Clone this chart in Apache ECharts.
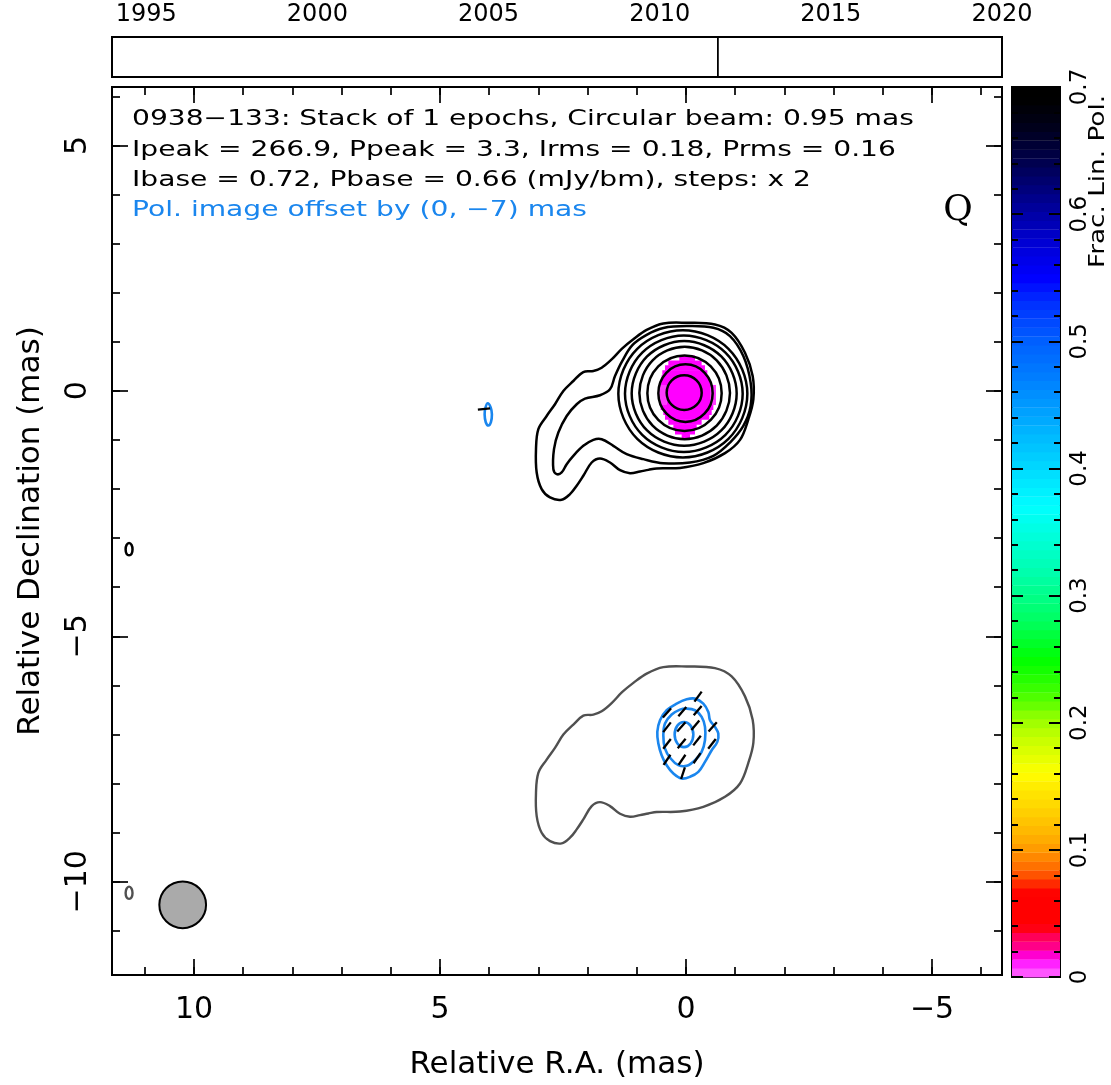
<!DOCTYPE html>
<html><head><meta charset="utf-8">
<script src="https://cdn.jsdelivr.net/npm/echarts@6/dist/echarts.min.js"></script>
<style>html,body{margin:0;padding:0;background:#fff;}#c{width:1111px;height:1085px;}</style>
</head><body><div id="c"></div>
<script>
// ================= DATA =================
// view extent (mas)
const raExtent = [-6.423, 11.667];
const decExtent = [-11.900, 6.189];
const yearExtent = [1994, 2020];
const fracExtent = [0, 0.7];

// tick values
const raMajorTicks = [-5, 0, 5, 10];
const raMinorTicks = [-6,-5,-4,-3,-2,-1,0,1,2,3,4,5,6,7,8,9,10,11];
const decMajorTicks = [-10, -5, 0, 5];
const decMinorTicks = [-11,-10,-9,-8,-7,-6,-5,-4,-3,-2,-1,0,1,2,3,4,5,6];
const yearTicks = [1995, 2000, 2005, 2010, 2015, 2020];
const fracMajorTicks = [0, 0.1, 0.2, 0.3, 0.4, 0.5, 0.6, 0.7];
const fracMinorTicks = [0.02,0.04,0.06,0.08,0.12,0.14,0.16,0.18,0.22,0.24,0.26,0.28,0.32,0.34,0.36,0.38,0.42,0.44,0.46,0.48,0.52,0.54,0.56,0.58,0.62,0.64,0.66,0.68];

// epochs stacked
const epochYears = [2011.70];

// Stokes I contours [RA, Dec] (mas), levels 0.72 mJy/bm x 2^n, outermost first
const iContour1 = [[0.461,1.372],[-0.014,1.385],[-0.589,1.352],[-0.928,1.182],[-1.199,0.776],[-1.355,0.301],[-1.369,-0.173],[-1.267,-0.579],[-1.098,-0.999],[-0.793,-1.270],[-0.352,-1.474],[0.122,-1.570],[0.596,-1.580],[0.766,-1.610],[0.935,-1.643],[1.138,-1.677],[1.341,-1.616],[1.545,-1.460],[1.748,-1.379],[1.917,-1.460],[2.087,-1.731],[2.222,-1.934],[2.358,-2.104],[2.527,-2.219],[2.764,-2.172],[2.934,-2.002],[3.035,-1.663],[3.049,-1.189],[3.001,-0.782],[2.832,-0.512],[2.663,-0.274],[2.493,-0.003],[2.290,0.200],[2.087,0.383],[1.883,0.403],[1.714,0.471],[1.511,0.640],[1.300,0.860],[1.070,1.050],[0.800,1.240]];
const iContour2 = [[-0.014,1.318],[-0.556,1.284],[-0.894,1.114],[-1.165,0.707],[-1.314,0.166],[-1.314,-0.308],[-1.165,-0.715],[-0.894,-1.054],[-0.556,-1.324],[-0.081,-1.460],[0.461,-1.474],[0.867,-1.392],[1.206,-1.291],[1.477,-1.121],[1.714,-0.986],[1.883,-0.999],[2.087,-1.121],[2.290,-1.324],[2.425,-1.494],[2.527,-1.663],[2.629,-1.697],[2.696,-1.595],[2.683,-1.189],[2.595,-0.850],[2.425,-0.512],[2.222,-0.274],[2.053,-0.159],[1.748,-0.091],[1.545,0.030],[1.443,0.301],[1.300,0.600],[1.090,0.930],[0.800,1.140],[0.460,1.280]];
const iContour3 = [[1.375,-0.061],[0.991,0.856],[0.064,1.236],[-0.863,0.856],[-1.247,-0.061],[-0.863,-0.978],[0.064,-1.358],[0.991,-0.978]];
const iContour4 = [[1.240,-0.058],[0.890,0.780],[0.044,1.128],[-0.802,0.780],[-1.152,-0.058],[-0.802,-0.896],[0.044,-1.244],[0.890,-0.896]];
const iContour5 = [[1.104,-0.054],[0.791,0.700],[0.037,1.013],[-0.717,0.700],[-1.030,-0.054],[-0.717,-0.808],[0.037,-1.121],[0.791,-0.808]];
const iContour6 = [[0.948,-0.044],[0.678,0.622],[0.027,0.898],[-0.624,0.622],[-0.894,-0.044],[-0.624,-0.710],[0.027,-0.986],[0.678,-0.710]];
const iContour7 = [[0.785,-0.047],[0.564,0.497],[0.030,0.722],[-0.504,0.497],[-0.725,-0.047],[-0.504,-0.591],[0.030,-0.816],[0.564,-0.591]];
const iContour8 = [[0.562,-0.047],[0.400,0.367],[0.010,0.539],[-0.380,0.367],[-0.542,-0.047],[-0.380,-0.461],[0.010,-0.633],[0.400,-0.461]];
const iContour9 = [[0.393,-0.037],[0.289,0.212],[0.037,0.315],[-0.215,0.212],[-0.319,-0.037],[-0.215,-0.286],[0.037,-0.389],[0.289,-0.286]];
const iIsland = [[11.39,-3.23],[11.37,-3.14],[11.32,-3.10],[11.27,-3.14],[11.25,-3.23],[11.27,-3.32],[11.32,-3.35],[11.37,-3.32]];

// polarized intensity contours (already offset by polOffset)
const pContour1 = [[-0.183,-6.270],[-0.352,-6.372],[-0.454,-6.541],[-0.488,-6.711],[-0.589,-6.846],[-0.657,-6.982],[-0.637,-7.151],[-0.522,-7.321],[-0.386,-7.558],[-0.251,-7.761],[-0.081,-7.863],[0.088,-7.897],[0.257,-7.795],[0.393,-7.626],[0.495,-7.422],[0.562,-7.185],[0.583,-6.948],[0.528,-6.711],[0.393,-6.507],[0.190,-6.372],[-0.014,-6.284]];
const pContour2 = [[-0.014,-6.473],[-0.183,-6.507],[-0.318,-6.643],[-0.386,-6.846],[-0.386,-7.118],[-0.318,-7.354],[-0.183,-7.524],[-0.014,-7.639],[0.156,-7.625],[0.312,-7.490],[0.427,-7.287],[0.461,-7.016],[0.427,-6.778],[0.291,-6.595],[0.122,-6.494]];
const pContour3 = [[0.231,-7.002],[0.175,-6.820],[0.041,-6.745],[-0.093,-6.820],[-0.149,-7.002],[-0.093,-7.184],[0.041,-7.259],[0.175,-7.184]];
const pIsland = [[4.030,-0.254],[3.970,-0.340],[3.945,-0.480],[3.965,-0.640],[4.015,-0.707],[4.070,-0.640],[4.093,-0.480],[4.075,-0.340]];

// EVPA ticks [RA, Dec, EVPA deg]
const evpaTicks = [[-0.245,-6.230,-36],[0.386,-6.560,-42],[0.075,-6.535,-40],[-0.237,-6.514,-40],[0.386,-6.853,-38],[0.095,-6.846,-42],[-0.190,-6.813,-40],[-0.542,-6.846,-42],[0.386,-7.192,-38],[0.088,-7.185,-40],[-0.224,-7.124,-38],[-0.528,-7.192,-38],[0.386,-7.517,-34],[0.081,-7.517,-34],[-0.224,-7.483,-34],[0.061,-7.788,-18],[4.106,-0.370,-84]];

// fractional polarization pixel rows [Dec, RA left, RA right, frac]
const polPixelRows = [
  [0.67,0.136,-0.183,0.014],[0.57,0.359,-0.318,0.014],[0.47,0.427,-0.386,0.014],[0.37,0.481,-0.434,0.014],
  [0.27,0.495,-0.454,0.014],[0.17,0.515,-0.488,0.014],[0.07,0.400,-0.488,0.014],[-0.03,0.400,-0.488,0.014],
  [-0.13,0.400,-0.488,0.014],[-0.23,0.400,-0.488,0.014],[-0.33,0.515,-0.556,0.014],[-0.43,0.461,-0.522,0.014],
  [-0.53,0.427,-0.474,0.014],[-0.63,0.359,-0.318,0.014],[-0.73,0.257,-0.217,0.014],[-0.83,0.224,-0.183,0.014],
  [-0.93,0.088,-0.081,0.014],
  [0.07,0.542,0.400,0.008],[-0.03,0.542,0.400,0.008],[-0.13,0.542,0.400,0.008],[-0.23,0.542,0.400,0.008],
  [0.07,-0.488,-0.610,0.008],[-0.03,-0.488,-0.610,0.008],[-0.13,-0.488,-0.610,0.008],[-0.23,-0.488,-0.610,0.008]
];
const polPixelHeight = 0.1;

// restoring beam [RA, Dec, FWHM]
const beam = [[10.23, -10.47, 0.95]];
const polOffset = [0, -7];

// colour palette of fractional polarization
const fracPalette = [[0.000,'#ff66ff'],[0.007,'#ff44ff'],[0.014,'#ff00ff'],[0.021,'#ff00a0'],[0.028,'#ff0070'],[0.035,'#ff0040'],[0.040,'#ff0000'],[0.066,'#ff0000'],[0.072,'#ff2000'],[0.078,'#ff4800'],[0.085,'#ff6800'],[0.092,'#ff8000'],[0.100,'#ff9800'],[0.110,'#ffb000'],[0.120,'#ffc000'],[0.135,'#ffd800'],[0.150,'#ffec00'],[0.160,'#ffff00'],[0.175,'#e0ff00'],[0.190,'#c0ff00'],[0.205,'#90ff00'],[0.215,'#60ff00'],[0.230,'#30ff00'],[0.250,'#00ff00'],[0.280,'#00ff60'],[0.320,'#00ffb0'],[0.370,'#00ffff'],[0.420,'#00c0ff'],[0.470,'#0080ff'],[0.500,'#0060ff'],[0.530,'#0030ff'],[0.550,'#0000ff'],[0.580,'#0000d0'],[0.610,'#000090'],[0.640,'#000050'],[0.670,'#000018'],[0.690,'#000000'],[0.700,'#000000']];
const fracBandStep = 0.007;

const headerLines = [
  '0938\u2212133: Stack of 1 epochs, Circular beam: 0.95 mas',
  'Ipeak = 266.9, Ppeak = 3.3, Irms = 0.18, Prms = 0.16',
  'Ibase = 0.72, Pbase = 0.66 (mJy/bm), steps: x 2',
  'Pol. image offset by (0, \u22127) mas'
];

// ================= RENDER =================
const FONT = 'DejaVu Sans';
const BLUE = '#1a86ee';
const STRETCH = 1.34;
const minus = v => String(v).replace('-', '\u2212');

function hexRgb(h){ return [parseInt(h.substr(1,2),16),parseInt(h.substr(3,2),16),parseInt(h.substr(5,2),16)]; }
function fracColor(v){
  for (let i = 1; i < fracPalette.length; i++) {
    if (v <= fracPalette[i][0]) {
      const a = fracPalette[i-1], b = fracPalette[i];
      const t = (v - a[0]) / (b[0] - a[0] || 1);
      const ca = hexRgb(a[1]), cb = hexRgb(b[1]);
      return 'rgb(' + ca.map((c,k) => Math.round(c + (cb[k]-c)*t)).join(',') + ')';
    }
  }
  return fracPalette[fracPalette.length-1][1];
}

function contourSeries(pts, color, width, off) {
  const o = off || [0, 0];
  const data = pts.map(p => [p[0] + o[0], p[1] + o[1]]);
  return {
    type: 'custom', coordinateSystem: 'cartesian2d', xAxisIndex: 0, yAxisIndex: 0,
    data: data, clip: true, silent: true, z: 5,
    renderItem: function (params, api) {
      if (params.dataIndex !== 0) return null;
      return { type: 'polygon', shape: { points: data.map(p => api.coord(p)), smooth: 0.36 },
        style: { fill: 'none', stroke: color, lineWidth: width } };
    }
  };
}

function axisBase(extra) {
  return Object.assign({ type: 'value', splitLine: { show: false }, axisLine: { show: false, onZero: false } }, extra);
}
function tickAxis(grid, pos, ext, values, len, inverse, label, tw) {
  return axisBase({
    gridIndex: grid, position: pos, min: ext[0], max: ext[1], inverse: !!inverse,
    axisTick: { show: true, inside: true, length: len, customValues: values, lineStyle: { color: '#000', width: tw || 1.7 } },
    axisLabel: label ? Object.assign({ show: true, customValues: values }, label) : { show: false }
  });
}

const bands = [];
for (let v = 0; v < fracExtent[1] - 1e-9; v += fracBandStep) bands.push([0, v, Math.min(v + fracBandStep, fracExtent[1])]);

const xAxes = [
  Object.assign(tickAxis(0, 'bottom', raExtent, raMajorTicks, 16, true,
    { fontSize: 30, fontFamily: FONT, color: '#000', margin: 20, formatter: minus }),
    { name: 'Relative R.A. (mas)', nameLocation: 'middle', nameGap: 74, nameTextStyle: { fontSize: 31, fontFamily: FONT, color: '#000' } }),
  tickAxis(0, 'bottom', raExtent, raMinorTicks, 8, true),
  tickAxis(0, 'top', raExtent, raMajorTicks, 16, true),
  tickAxis(0, 'top', raExtent, raMinorTicks, 8, true),
  axisBase({ gridIndex: 1, position: 'top', min: yearExtent[0], max: yearExtent[1],
    axisTick: { show: false },
    axisLabel: { show: true, customValues: yearTicks, fontSize: 24, fontFamily: FONT, color: '#000', margin: 10, formatter: v => String(v) } }),
  axisBase({ gridIndex: 2, min: 0, max: 1, show: false })
];
const yAxes = [
  Object.assign(tickAxis(0, 'left', decExtent, decMajorTicks, 16, false,
    { fontSize: 30, fontFamily: FONT, color: '#000', margin: 19, rotate: 90, formatter: minus }),
    { name: 'Relative Declination (mas)', nameLocation: 'middle', nameGap: 66, nameRotate: 90, nameTextStyle: { fontSize: 31, fontFamily: FONT, color: '#000' } }),
  tickAxis(0, 'left', decExtent, decMinorTicks, 8),
  tickAxis(0, 'right', decExtent, decMajorTicks, 16),
  tickAxis(0, 'right', decExtent, decMinorTicks, 8),
  axisBase({ gridIndex: 1, min: 0, max: 1, show: false }),
  tickAxis(2, 'right', fracExtent, fracMajorTicks, 11, false,
    { fontSize: 23, fontFamily: FONT, color: '#000', margin: 9, rotate: 90, formatter: v => (v === 0 ? '0' : (+v).toFixed(1)) }, 2),
  tickAxis(2, 'right', fracExtent, fracMinorTicks, 6, false, null, 2),
  tickAxis(2, 'left', fracExtent, fracMajorTicks, 11, false, null, 2),
  tickAxis(2, 'left', fracExtent, fracMinorTicks, 6, false, null, 2)
];

const series = [];
// fractional polarization pixels
series.push({
  type: 'custom', coordinateSystem: 'cartesian2d', xAxisIndex: 0, yAxisIndex: 0, data: polPixelRows,
  encode: { x: [1, 2], y: 0 }, clip: true, silent: true, z: 2,
  renderItem: function (params, api) {
    const dec = api.value(0), f = api.value(3);
    const p1 = api.coord([api.value(1), dec + polPixelHeight / 2]);
    const p2 = api.coord([api.value(2), dec - polPixelHeight / 2]);
    return { type: 'rect', shape: { x: p1[0], y: p1[1], width: p2[0] - p1[0], height: p2[1] - p1[1] + 0.5 }, style: { fill: fracColor(f) } };
  }
});
// I contours
[iContour1, iContour2, iContour3, iContour4, iContour5, iContour6, iContour7, iContour8, iContour9, iIsland]
  .forEach(c => series.push(contourSeries(c, '#000', 2.5)));
// lowest I contour of the offset (pol) image
[iContour1, iIsland].forEach(c => series.push(contourSeries(c, '#505050', 2.4, polOffset)));
// polarized intensity contours
[pContour1, pContour2, pContour3, pIsland].forEach(c => series.push(contourSeries(c, BLUE, 2.6)));
// EVPA ticks
series.push({
  type: 'custom', coordinateSystem: 'cartesian2d', xAxisIndex: 0, yAxisIndex: 0, data: evpaTicks,
  encode: { x: 0, y: 1 }, clip: true, silent: true, z: 8,
  renderItem: function (params, api) {
    const c = api.coord([api.value(0), api.value(1)]);
    const half = api.size([0.25, 0])[0] / 2;
    const a = api.value(2) * Math.PI / 180;
    const dx = -Math.sin(a) * half, dy = -Math.cos(a) * half;
    return { type: 'line', shape: { x1: c[0] - dx, y1: c[1] - dy, x2: c[0] + dx, y2: c[1] + dy }, style: { stroke: '#000', lineWidth: 2.3 } };
  }
});
// beam
series.push({
  type: 'custom', coordinateSystem: 'cartesian2d', xAxisIndex: 0, yAxisIndex: 0, data: beam,
  encode: { x: 0, y: 1 }, silent: true, z: 9,
  renderItem: function (params, api) {
    const c = api.coord([api.value(0), api.value(1)]);
    const r = api.size([api.value(2) / 2, 0])[0];
    return { type: 'circle', shape: { cx: c[0], cy: c[1], r: r }, style: { fill: '#aaaaaa', stroke: '#000', lineWidth: 2 } };
  }
});
// epoch lines
series.push({
  type: 'custom', coordinateSystem: 'cartesian2d', xAxisIndex: 4, yAxisIndex: 4, data: epochYears.map(y => [y, 0]),
  encode: { x: 0, y: 1 }, silent: true, z: 5,
  renderItem: function (params, api) {
    const t = api.coord([api.value(0), 1]), b = api.coord([api.value(0), 0]);
    return { type: 'line', shape: { x1: t[0], y1: t[1], x2: b[0], y2: b[1] }, style: { stroke: '#000', lineWidth: 1.8 } };
  }
});
// colour bar
series.push({
  type: 'custom', coordinateSystem: 'cartesian2d', xAxisIndex: 5, yAxisIndex: 5, data: bands,
  encode: { x: 0, y: [1, 2] }, silent: true, z: 0,
  renderItem: function (params, api) {
    const lo = api.value(1), hi = api.value(2);
    const p1 = api.coord([0, hi]), p2 = api.coord([1, lo]);
    return { type: 'rect', shape: { x: p1[0], y: p1[1], width: p2[0] - p1[0], height: p2[1] - p1[1] + 0.4 }, style: { fill: fracColor((lo + hi) / 2) } };
  }
});

const headerY = [120, 150.5, 181, 211];
const graphic = headerLines.map((t, i) => ({
  type: 'text', x: 132, y: headerY[i], scaleX: STRETCH, z: 100,
  style: { text: t, fontSize: 21, fontFamily: FONT, fill: i === 3 ? BLUE : '#000', align: 'left', verticalAlign: 'middle' }
}));
graphic.push({ type: 'text', x: 958, y: 211, z: 100,
  style: { text: 'Q', fontSize: 36, fontFamily: 'DejaVu Serif', fill: '#000', align: 'center', verticalAlign: 'middle' } });
graphic.push({ type: 'text', x: 1099, y: 268, rotation: Math.PI / 2, scaleX: 1.25, z: 100,
  style: { text: 'Frac. Lin. Pol.', fontSize: 21, fontFamily: FONT, fill: '#000', align: 'left', verticalAlign: 'middle' } });

const gridBox = { show: true, borderColor: '#000', borderWidth: 2, backgroundColor: 'transparent' };
const option = {
  animation: false,
  backgroundColor: '#ffffff',
  grid: [
    Object.assign({ left: 112, top: 87, width: 890, height: 890 }, gridBox),
    Object.assign({ left: 112, top: 37, width: 890, height: 40 }, gridBox),
    Object.assign({ left: 1012, top: 87, width: 48, height: 890 }, gridBox)
  ],
  xAxis: xAxes,
  yAxis: yAxes,
  series: series,
  graphic: graphic
};
const chart = echarts.init(document.getElementById('c'));
chart.setOption(option);
</script></body></html>
